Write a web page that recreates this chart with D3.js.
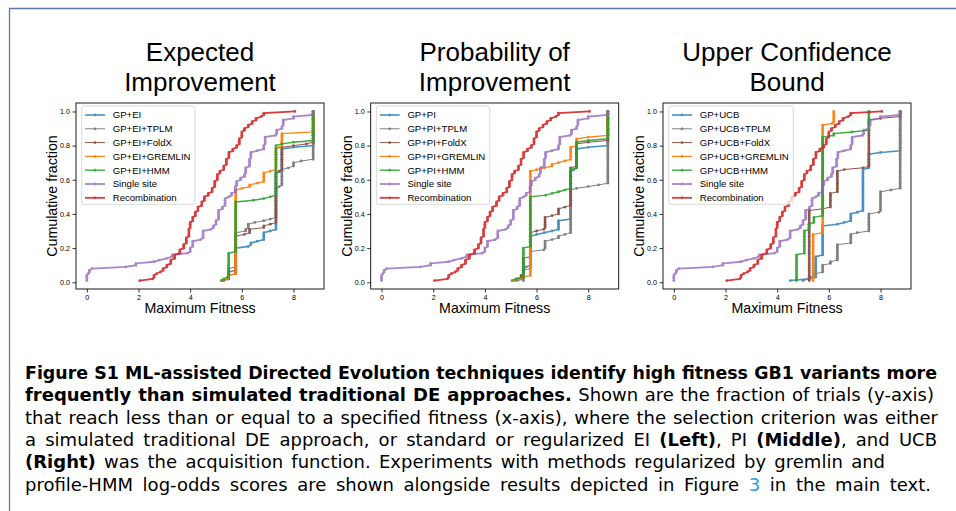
<!DOCTYPE html>
<html>
<head>
<meta charset="utf-8">
<script src="https://cdn.jsdelivr.net/npm/d3@7"></script>
<style>
  body { margin: 0; background: #fff; }
  svg { display: block; }
  .tick text { font-family: "Liberation Sans", Arial, sans-serif; font-size: 7.2px; fill: #000; }
  .caption { font-family: "DejaVu Sans", sans-serif; white-space: pre; }
</style>
</head>
<body>
<svg id="fig" width="956" height="511"></svg>
<script>
// ---- data: [max fitness, number of trials reaching it] ----
const singleSite = [[0.0,4],[0.05,1],[0.1,2],[0.2,1],[1.5,1],[1.9,2],[2.6,1],[2.8,1],[3.1,1],[3.3,2],[3.9,1],[4.0,3],[4.1,4],[4.4,1],[4.5,5],[4.8,1],[4.9,2],[5.0,3],[5.1,6],[5.25,2],[5.35,5],[5.5,1],[5.6,2],[5.75,4],[5.8,3],[5.95,2],[6.1,2],[6.15,4],[6.3,5],[6.35,4],[6.6,1],[6.85,3],[6.9,5],[7.3,1],[7.35,3],[7.55,2],[7.6,4],[8.0,2],[8.76,3]];
const recombination = [[2.05,1],[2.55,1],[2.6,2],[2.7,1],[2.85,1],[2.95,2],[3.1,2],[3.25,3],[3.4,3],[3.6,3],[3.75,3],[3.85,4],[3.95,5],[4.0,4],[4.1,3],[4.2,3],[4.3,3],[4.45,3],[4.55,3],[4.7,2],[4.85,3],[4.95,4],[5.05,4],[5.15,2],[5.3,3],[5.4,4],[5.5,4],[5.65,2],[5.8,2],[5.9,4],[6.0,4],[6.1,2],[6.25,2],[6.4,2],[6.55,2],[6.75,1],[6.85,2],[8.05,1]];

const eiGP      = [[5.27,1],[5.49,5],[5.76,14],[6.25,1],[6.35,2],[6.6,1],[6.85,5],[7.1,1],[7.32,34],[7.55,14],[8.0,1],[8.76,21]];
const eiTPLM    = [[5.27,1],[5.49,7],[5.76,21],[6.15,2],[6.25,3],[6.5,1],[6.85,1],[7.1,1],[7.32,18],[7.45,1],[7.55,10],[7.8,1],[8.0,3],[8.3,1],[8.76,29]];
const eiFoldX   = [[5.3,1],[5.49,3],[5.76,23],[6.1,1],[6.3,3],[6.85,2],[7.1,1],[7.32,30],[7.45,1],[7.55,14],[8.0,1],[8.5,1],[8.76,19]];
const eiGremlin = [[5.25,1],[5.45,1],[5.49,2],[5.76,50],[6.0,1],[6.3,2],[6.6,1],[6.85,6],[7.1,1],[7.32,13],[7.45,1],[7.55,8],[8.76,13]];
const eiHMM     = [[5.2,1],[5.3,1],[5.45,1],[5.49,14],[5.76,30],[6.45,1],[6.85,1],[7.1,1],[7.32,30],[7.55,1],[8.0,1],[8.76,18]];

const piGP      = [[5.25,1],[5.49,7],[5.6,1],[5.76,18],[6.0,1],[6.3,1],[6.6,1],[6.85,6],[7.32,29],[7.45,1],[7.55,12],[8.0,1],[8.76,21]];
const piTPLM    = [[5.49,7],[5.76,11],[6.28,1],[6.33,5],[6.6,1],[6.85,2],[7.1,1],[7.32,26],[7.55,1],[8.0,1],[8.4,1],[8.76,43]];
const piFoldX   = [[5.15,1],[5.25,1],[5.4,2],[5.49,10],[5.76,15],[6.0,1],[6.28,1],[6.33,7],[6.6,1],[6.85,4],[7.1,1],[7.32,23],[7.55,14],[8.0,1],[8.76,18]];
const piGremlin = [[5.15,1],[5.37,1],[5.49,1],[5.76,62],[6.0,1],[6.3,1],[6.6,2],[6.85,1],[7.1,1],[7.32,8],[7.55,5],[8.0,1],[8.76,15]];
const piHMM     = [[5.05,1],[5.2,1],[5.49,18],[5.76,30],[6.35,1],[6.6,1],[6.85,1],[7.1,1],[7.32,12],[7.55,16],[8.0,1],[8.76,17]];

const ucbGP      = [[4.51,1],[5.24,1],[5.49,13],[5.76,18],[6.33,1],[6.6,1],[6.85,5],[7.1,1],[7.32,25],[7.55,9],[8.0,1],[8.76,24]];
const ucbTPLM    = [[5.0,1],[5.24,2],[5.49,2],[5.76,5],[6.06,2],[6.33,10],[6.85,6],[7.1,1],[7.55,11],[7.94,1],[8.0,12],[8.4,1],[8.76,46]];
const ucbFoldX   = [[5.24,42],[5.76,1],[6.06,9],[6.33,13],[6.6,1],[7.32,1],[7.55,28],[8.0,1],[8.76,4]];
const ucbGremlin = [[5.39,28],[5.76,64],[6.13,1],[6.19,7]];
const ucbHMM     = [[4.75,16],[5.05,14],[5.23,4],[5.42,4],[5.76,47],[6.19,2],[6.9,1],[7.55,12]];

const acquisitions = ["EI", "PI", "UCB"];
const titles = [["Expected", "Improvement"], ["Probability of", "Improvement"], ["Upper Confidence", "Bound"]];
const methodSuffix = ["", "+TPLM", "+FoldX", "+GREMLIN", "+HMM"];
const panelSeries = [
  [eiGP, eiTPLM, eiFoldX, eiGremlin, eiHMM],
  [piGP, piTPLM, piFoldX, piGremlin, piHMM],
  [ucbGP, ucbTPLM, ucbFoldX, ucbGremlin, ucbHMM]
];
const xTicks = [0, 2, 4, 6, 8];
const yTicks = [0, 0.2, 0.4, 0.6, 0.8, 1.0];

// legend order colours (tab10)
const colors = ["#1f77b4", "#7f7f7f", "#8c564b", "#ff7f0e", "#2ca02c", "#9467bd", "#d62728"];
const widths = [1.6, 1, 1, 1.3, 1.4, 1.8, 1.8];
const opac = [0.8, 1, 1, 0.95, 0.9, 0.8, 0.9];

const captionLines = [
  [["Figure S1 ML-assisted Directed Evolution techniques identify high fitness GB1 variants more", "b"]],
  [["frequently than simulated traditional DE approaches.", "b"], [" Shown are the fraction of trials (y-axis)", ""]],
  [["that reach less than or equal to a specified fitness (x-axis), where the selection criterion was either", ""]],
  [["a simulated traditional DE approach, or standard or regularized EI ", ""], ["(Left)", "b"], [", PI ", ""], ["(Middle)", "b"], [", and UCB", ""]],
  [["(Right)", "b"], [" was the acquisition function. Experiments with methods regularized by gremlin and", ""]],
  [["profile-HMM log-odds scores are shown alongside results depicted in Figure ", ""], ["3", "link"], [" in the main text.", ""]]
];
// right edge of each caption line
const captionRight = [937, 934, 938, 937, 885, 931];

// ---- helpers ----
function ecdf(counts) {
  const n = d3.sum(counts, d => d[1]);
  const pts = [];
  let cum = 0;
  counts.forEach(([fx, c]) => {
    for (let k = 0; k < c; k++) { cum += 1; pts.push([fx, cum / n]); }
  });
  return pts;
}

const svg = d3.select("#fig");
svg.append("rect").attr("width", 956).attr("height", 511).attr("fill", "#fff");

// page frame
svg.append("path")
  .attr("d", "M9.5,511 V8.5 H956")
  .attr("fill", "none").attr("stroke", "#5a78a8").attr("stroke-width", 1.3);

const panelLeft = [76, 370.7, 663];
const plotTop = 103, plotW = 248, plotH = 186;
const fontA = '"Liberation Sans", Arial, sans-serif';

panelLeft.forEach((left, i) => {
  const g = svg.append("g").attr("transform", `translate(${left},${plotTop})`);
  const x = d3.scaleLinear().domain([-0.42, 9.18]).range([0, plotW]);
  const y = d3.scaleLinear().domain([-0.0395, 1.0495]).range([plotH, 0]);

  // titles
  titles[i].forEach((t, k) => {
    svg.append("text").attr("x", left + plotW / 2).attr("y", 61 + k * 30)
      .attr("text-anchor", "middle").attr("font-family", fontA).attr("font-size", 26)
      .text(t);
  });

  const acq = acquisitions[i];
  const series = panelSeries[i].map((d, k) => ({ name: "GP+" + acq + methodSuffix[k], counts: d }))
    .concat([{ name: "Single site", counts: singleSite }, { name: "Recombination", counts: recombination }]);

  const line = d3.line().x(d => x(d[0])).y(d => y(d[1]));
  series.forEach((s, k) => {
    const pts = ecdf(s.counts);
    const sg = g.append("g").attr("opacity", opac[k]);
    sg.append("path").datum(pts).attr("d", line)
      .attr("fill", "none").attr("stroke", colors[k]).attr("stroke-width", widths[k]);
    sg.selectAll("circle").data(pts).join("circle")
      .attr("cx", d => x(d[0])).attr("cy", d => y(d[1])).attr("r", 1.4)
      .attr("fill", colors[k]);
  });

  // axes
  const ax = g.append("g").attr("transform", `translate(0,${plotH})`)
    .call(d3.axisBottom(x).tickValues(xTicks).tickSize(3.5).tickPadding(2).tickFormat(d3.format("d")));
  const ay = g.append("g")
    .call(d3.axisLeft(y).tickValues(yTicks).tickSize(3.5).tickPadding(2.5).tickFormat(d3.format(".1f")));
  [ax, ay].forEach(a => {
    a.select(".domain").remove();
    a.selectAll(".tick line").attr("stroke", "#000").attr("stroke-width", 0.8);
  });
  g.append("rect").attr("width", plotW).attr("height", plotH)
    .attr("fill", "none").attr("stroke", "#000").attr("stroke-width", 0.9);

  // axis labels
  g.append("text").attr("x", plotW / 2).attr("y", 210)
    .attr("text-anchor", "middle").attr("font-family", fontA).attr("font-size", 14.2)
    .text("Maximum Fitness");
  g.append("text").attr("transform", `translate(-19,${plotH / 2}) rotate(-90)`)
    .attr("text-anchor", "middle").attr("font-family", fontA).attr("font-size", 14.2)
    .text("Cumulative fraction");

  // legend
  const lg = g.append("g").attr("transform", "translate(5.7,3)");
  const box = lg.append("rect").attr("rx", 2).attr("ry", 2)
    .attr("fill", "#fff").attr("fill-opacity", 0.8)
    .attr("stroke", "#d0d0d0").attr("stroke-width", 0.8);
  let maxW = 0;
  series.forEach((s, k) => {
    const ry = 9 + k * 13.8;
    const eg = lg.append("g").attr("opacity", opac[k]);
    eg.append("line").attr("x1", 3.3).attr("x2", 23.3).attr("y1", ry).attr("y2", ry)
      .attr("stroke", colors[k]).attr("stroke-width", widths[k]);
    eg.append("circle").attr("cx", 13.3).attr("cy", ry).attr("r", 1.4).attr("fill", colors[k]);
    const t = lg.append("text").attr("x", 31).attr("y", ry).attr("dy", "0.35em")
      .attr("font-family", fontA).attr("font-size", 9.6).text(s.name);
    maxW = Math.max(maxW, t.node().getComputedTextLength());
  });
  box.attr("width", 31 + maxW + 4.5).attr("height", 98.3);
});

// caption: each line fitted to the width it has in the reference
const capX = 25;
const capY = [379, 401.4, 423.7, 446, 468.3, 490.7];
captionLines.forEach((parts, i) => {
  const t = svg.append("text").attr("class", "caption").attr("x", capX).attr("y", capY[i])
    .attr("font-size", 18);
  parts.forEach(([txt, kind]) => {
    const ts = t.append("tspan").text(txt);
    if (kind === "b") ts.attr("font-weight", "bold");
    if (kind === "link") ts.attr("fill", "#1aa3e0");
  });
  const target = captionRight[i] - capX;
  let natural = t.node().getComputedTextLength();
  if (natural > target) {
    // too wide: shrink the font a little so the line fits
    t.attr("font-size", Math.floor(18 * target / natural * 10) / 10);
    natural = t.node().getComputedTextLength();
  }
  const spaces = parts.map(p => p[0]).join("").split(" ").length - 1;
  t.attr("word-spacing", Math.max(0, (target - natural) / spaces));
});
</script>
</body>
</html>
